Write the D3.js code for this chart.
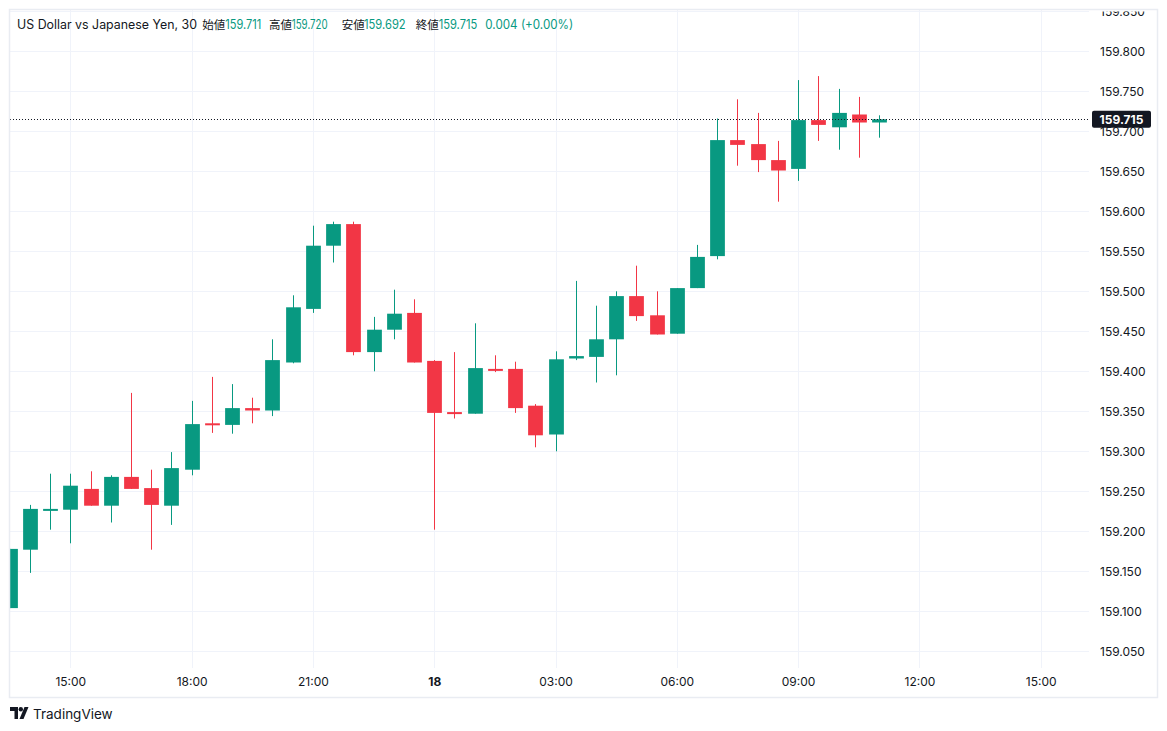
<!DOCTYPE html>
<html>
<head>
<meta charset="utf-8">
<script src="https://cdn.jsdelivr.net/npm/d3@7"></script>
<style>
  html, body { margin: 0; padding: 0; background: #ffffff; }
  svg { display: block; }
</style>
</head>
<body>
<svg id="chart" width="1167" height="731"></svg>
<script>
// ---------- DATA ----------
const times = [
  "2024-06-17T13:30","2024-06-17T14:00","2024-06-17T14:30","2024-06-17T15:00","2024-06-17T15:30",
  "2024-06-17T16:00","2024-06-17T16:30","2024-06-17T17:00","2024-06-17T17:30","2024-06-17T18:00",
  "2024-06-17T18:30","2024-06-17T19:00","2024-06-17T19:30","2024-06-17T20:00","2024-06-17T20:30",
  "2024-06-17T21:00","2024-06-17T21:30","2024-06-17T22:00","2024-06-17T22:30","2024-06-17T23:00",
  "2024-06-17T23:30","2024-06-18T00:00","2024-06-18T00:30","2024-06-18T01:00","2024-06-18T01:30",
  "2024-06-18T02:00","2024-06-18T02:30","2024-06-18T03:00","2024-06-18T03:30","2024-06-18T04:00",
  "2024-06-18T04:30","2024-06-18T05:00","2024-06-18T05:30","2024-06-18T06:00","2024-06-18T06:30",
  "2024-06-18T07:00","2024-06-18T07:30","2024-06-18T08:00","2024-06-18T08:30","2024-06-18T09:00",
  "2024-06-18T09:30","2024-06-18T10:00","2024-06-18T10:30","2024-06-18T11:00"
];
const opens = [
  159.104,159.177,159.227,159.227,159.253,159.232,159.268,159.254,159.232,159.277,
  159.335,159.333,159.354,159.351,159.411,159.478,159.557,159.584,159.424,159.452,
  159.473,159.413,159.349,159.347,159.403,159.403,159.357,159.321,159.416,159.418,
  159.440,159.494,159.470,159.447,159.504,159.544,159.689,159.684,159.664,159.653,
  159.714,159.705,159.721,159.711
];
const highs = [
  159.178,159.233,159.272,159.272,159.275,159.270,159.373,159.277,159.299,159.363,
  159.393,159.384,159.367,159.440,159.495,159.582,159.587,159.587,159.468,159.502,
  159.490,159.414,159.424,159.460,159.420,159.412,159.359,159.425,159.513,159.482,
  159.500,159.532,159.500,159.504,159.558,159.716,159.740,159.723,159.688,159.764,
  159.769,159.753,159.743,159.720
];
const lows = [
  159.104,159.148,159.202,159.185,159.232,159.211,159.253,159.177,159.208,159.270,
  159.323,159.322,159.335,159.344,159.410,159.473,159.536,159.420,159.400,159.440,
  159.411,159.202,159.341,159.347,159.399,159.348,159.305,159.300,159.414,159.386,
  159.395,159.463,159.446,159.447,159.504,159.540,159.657,159.649,159.612,159.638,
  159.688,159.677,159.667,159.692
];
const closes = [
  159.178,159.228,159.228,159.257,159.232,159.268,159.253,159.233,159.279,159.334,
  159.334,159.354,159.351,159.414,159.480,159.557,159.584,159.424,159.452,159.472,
  159.411,159.348,159.348,159.404,159.402,159.354,159.320,159.415,159.419,159.440,
  159.494,159.469,159.446,159.504,159.543,159.689,159.683,159.664,159.651,159.714,
  159.708,159.723,159.711,159.715
];
const priceTicks = [159.05,159.10,159.15,159.20,159.25,159.30,159.35,159.40,159.45,
                    159.50,159.55,159.60,159.65,159.70,159.75,159.80,159.85];
const timeTicks = ["2024-06-17T15:00","2024-06-17T18:00","2024-06-17T21:00","2024-06-18T00:00",
                   "2024-06-18T03:00","2024-06-18T06:00","2024-06-18T09:00","2024-06-18T12:00",
                   "2024-06-18T15:00"];
const timeTickLabels = ["15:00","18:00","21:00","18","03:00","06:00","09:00","12:00","15:00"];
const lastPrice = 159.715;
const headerTitle = "US Dollar vs Japanese Yen, 30";
const headerLabels = ["始値","高値","安値","終値"];
const headerValues = ["159.711","159.720","159.692","159.715"];
const headerChange = "0.004 (+0.00%)";

// ---------- LAYOUT ----------
const UP = "#089981", DOWN = "#F23645", TXT = "#131722", GRID = "#f0f3fa";
const plot = {left: 10, right: 1089, top: 10, bottom: 668};
const parse = s => new Date(s + ":00Z");

const x = d3.scaleUtc()
  .domain([parse("2024-06-17T15:00"), parse("2024-06-18T15:00")])
  .range([70.3, 1040.7]);
const y = d3.scaleLinear().domain([159.2, 159.8]).range([531.3, 51.3]);

const svg = d3.select("#chart");
const font = "Inter, Roboto, 'Noto Sans', sans-serif";

const defs = svg.append("defs");
defs.append("clipPath").attr("id", "plotClip")
  .append("rect").attr("x", plot.left).attr("y", plot.top)
  .attr("width", plot.right - plot.left).attr("height", plot.bottom - plot.top);
defs.append("clipPath").attr("id", "axisClip")
  .append("rect").attr("x", plot.right).attr("y", 11.5)
  .attr("width", 70).attr("height", plot.bottom - 11.5);

// grid
const grid = svg.append("g");
grid.selectAll("line.h").data(priceTicks).join("line")
  .attr("x1", plot.left).attr("x2", plot.right)
  .attr("y1", d => Math.round(y(d)) + 0.5).attr("y2", d => Math.round(y(d)) + 0.5)
  .attr("stroke", GRID).attr("stroke-width", 1);
grid.selectAll("line.v").data(timeTicks).join("line")
  .attr("x1", d => Math.round(x(parse(d))) + 0.5).attr("x2", d => Math.round(x(parse(d))) + 0.5)
  .attr("y1", plot.top).attr("y2", plot.bottom)
  .attr("stroke", GRID).attr("stroke-width", 1);

// candles
const candles = times.map((t, i) => ({t: parse(t), o: opens[i], h: highs[i], l: lows[i], c: closes[i]}));
const step = x(parse("2024-06-17T16:00")) - x(parse("2024-06-17T15:30"));
const bw = step * 0.73;
const cg = svg.append("g").attr("clip-path", "url(#plotClip)");
cg.selectAll("line.wick").data(candles).join("line")
  .attr("x1", d => Math.round(x(d.t)) + 0.5).attr("x2", d => Math.round(x(d.t)) + 0.5)
  .attr("y1", d => y(d.h)).attr("y2", d => y(d.l))
  .attr("stroke", d => d.c >= d.o ? UP : DOWN).attr("stroke-width", 1);
cg.selectAll("rect.body").data(candles).join("rect")
  .attr("x", d => Math.round(x(d.t)) + 0.5 - bw / 2)
  .attr("width", bw)
  .attr("y", d => y(Math.max(d.o, d.c)))
  .attr("height", d => Math.max(Math.abs(y(d.o) - y(d.c)), 2))
  .attr("fill", d => d.c >= d.o ? UP : DOWN);

// last price dotted line
svg.append("line")
  .attr("x1", plot.left).attr("x2", plot.right)
  .attr("y1", Math.round(y(lastPrice)) + 0.5).attr("y2", Math.round(y(lastPrice)) + 0.5)
  .attr("stroke", TXT).attr("stroke-width", 1).attr("stroke-dasharray", "1,2");

// price axis
const yAxis = d3.axisRight(y).tickValues(priceTicks).tickSize(0).tickPadding(0)
  .tickFormat(d3.format(".3f"));
const yaOuter = svg.append("g").attr("clip-path", "url(#axisClip)");
const ya = yaOuter.append("g").attr("transform", "translate(1100,0)").call(yAxis);
ya.select(".domain").remove();
ya.selectAll("text").attr("font-family", font).attr("font-size", 12)
  .attr("fill", TXT).attr("x", 0).attr("text-anchor", "start");

// last price label
const ly = y(lastPrice);
svg.append("rect").attr("x", 1092).attr("y", ly - 8.5).attr("width", 59).attr("height", 17)
  .attr("rx", 2).attr("fill", TXT);
svg.append("text").attr("x", 1121.5).attr("y", ly + 4.3).attr("text-anchor", "middle")
  .attr("font-family", font).attr("font-size", 12).attr("font-weight", 700)
  .attr("fill", "#ffffff").text(d3.format(".3f")(lastPrice));

// time axis
const xAxis = d3.axisBottom(x).tickValues(timeTicks.map(parse)).tickSize(0).tickPadding(0)
  .tickFormat((d, i) => timeTickLabels[i]);
const xa = svg.append("g").attr("transform", "translate(0,677)").call(xAxis);
xa.select(".domain").remove();
xa.selectAll("text").attr("font-family", font).attr("font-size", 12).attr("fill", TXT)
  .attr("dy", "0.71em")
  .attr("font-weight", (d, i) => timeTickLabels[i] === "18" ? 700 : 400);

// frame
svg.append("rect").attr("x", 9.5).attr("y", 9.5).attr("width", 1148).attr("height", 688)
  .attr("fill", "none").attr("stroke", "#e9ecf2").attr("stroke-width", 1.5);

// header
const hdr = svg.append("g").attr("font-family", font).attr("font-size", 12.5);
hdr.append("text").attr("x", 17).attr("y", 29).attr("fill", TXT)
  .attr("textLength", 180).attr("lengthAdjust", "spacingAndGlyphs").text(headerTitle);
const labelX = [202.3, 269, 341.7, 415.7];
const valueX = [225.3, 291.7, 364, 438.7];
const valueW = [36, 36, 41.7, 38.6];
headerLabels.forEach((l, i) => {
  hdr.append("text").attr("x", labelX[i]).attr("y", 29).attr("fill", TXT)
    .attr("font-family", "'Noto Sans CJK JP', sans-serif").attr("font-size", 11.5).text(l);
  hdr.append("text").attr("x", valueX[i]).attr("y", 29).attr("fill", UP)
    .attr("textLength", valueW[i]).attr("lengthAdjust", "spacingAndGlyphs").text(headerValues[i]);
});
hdr.append("text").attr("x", 485.3).attr("y", 29).attr("fill", UP)
  .attr("textLength", 88).attr("lengthAdjust", "spacingAndGlyphs").text(headerChange);

// TradingView logo
const logo = svg.append("g").attr("fill", TXT);
logo.append("path").attr("d", "M10,707 H18 V719 H14.5 V711 H10 Z");
logo.append("circle").attr("cx", 20.8).attr("cy", 709.2).attr("r", 2.2);
logo.append("path").attr("d", "M24.5,707 H28.5 L23.5,719 H19.5 Z");
svg.append("text").attr("x", 33).attr("y", 718.5).attr("font-family", font)
  .attr("font-size", 13.5).attr("fill", TXT).text("TradingView");
</script>
</body>
</html>
